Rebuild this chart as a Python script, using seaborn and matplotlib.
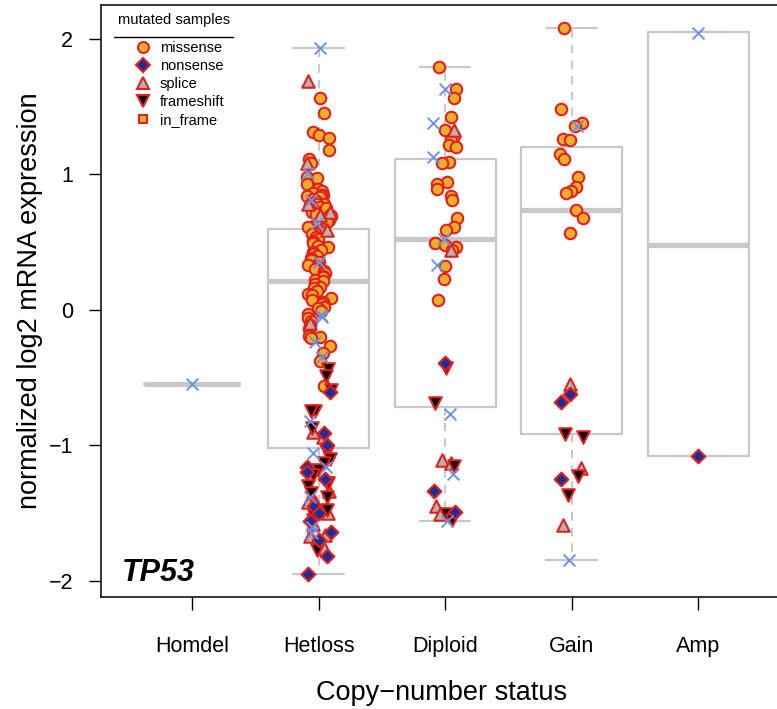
import numpy as np
import pandas as pd
import matplotlib
matplotlib.use("Agg")
import matplotlib.pyplot as plt
from matplotlib.lines import Line2D
import seaborn as sns

categories = ["Homdel", "Hetloss", "Diploid", "Gain", "Amp"]

# box statistics per category: whislo, q1, median, q3, whishi
box_whislo = [-0.55, -1.95, -1.56, -1.85, -1.08]
box_q1     = [-0.55, -1.02, -0.72, -0.92, -1.08]
box_med    = [-0.55,  0.21,  0.52,  0.74,  0.48]
box_q3     = [-0.55,  0.60,  1.11,  1.20,  2.05]
box_whishi = [-0.55,  1.93,  1.79,  2.08,  2.05]

# unmutated samples (blue crosses)
nomut_Homdel = [-0.55]
nomut_Hetloss = [1.93, 1.01, 0.81, 0.64, 0.35, -0.04, -0.05, -0.24, -0.35,
                 -0.82, -1.06, -1.16, -1.38, -1.60, -1.65]
nomut_Diploid = [1.63, 1.38, 1.13, 0.52, 0.33, -0.77, -1.21, -1.56]
nomut_Gain = [1.36, -1.85]
nomut_Amp = [2.04]

# missense
missense_Hetloss = [1.56, 1.45, 1.31, 1.29, 1.27, 1.18, 1.11, 1.08, 0.98, 0.97, 0.93,
                    0.89, 0.88, 0.86, 0.85, 0.85, 0.84, 0.83, 0.82, 0.80, 0.79, 0.78,
                    0.78, 0.77, 0.76, 0.75, 0.74, 0.72, 0.71, 0.70, 0.69, 0.67, 0.66,
                    0.65, 0.63, 0.61, 0.60, 0.58, 0.57, 0.56, 0.54, 0.52, 0.51, 0.49,
                    0.47, 0.46, 0.44, 0.43, 0.41, 0.40, 0.38, 0.37, 0.35, 0.33, 0.32,
                    0.30, 0.29, 0.27, 0.25, 0.24, 0.22, 0.21, 0.19, 0.17, 0.16, 0.14,
                    0.12, 0.11, 0.09, 0.07, 0.06, 0.04, 0.02, 0.01, -0.01, -0.03,
                    -0.06, -0.08, -0.11, -0.14, -0.19, -0.20, -0.21, -0.27, -0.32,
                    -0.38, -0.56]
missense_Diploid = [1.79, 1.63, 1.56, 1.42, 1.33, 1.28, 1.25, 1.22, 1.20, 1.09, 1.08,
                    0.94, 0.93, 0.89, 0.84, 0.81, 0.68, 0.61, 0.59, 0.49, 0.48, 0.46,
                    0.44, 0.32, 0.23, 0.07]
missense_Gain = [2.08, 1.48, 1.38, 1.36, 1.26, 1.25, 1.15, 1.11, 0.98, 0.91, 0.88,
                 0.86, 0.74, 0.68, 0.57]

# nonsense
nonsense_Hetloss = [-0.61, -0.91, -1.00, -1.16, -1.20, -1.25, -1.45, -1.50, -1.56,
                    -1.64, -1.70, -1.82, -1.95]
nonsense_Diploid = [-0.39, -1.34, -1.49]
nonsense_Gain = [-0.62, -0.68, -1.25]
nonsense_Amp = [-1.08]

# splice
splice_Hetloss = [1.69, 1.08, 0.78, 0.72, 0.70, 0.59, -0.10, -0.90, -0.94, -1.34,
                  -1.42, -1.42, -1.50, -1.58, -1.66, -1.67, -1.76]
splice_Diploid = [1.33, 0.44, -1.11, -1.13, -1.45, -1.51]
splice_Gain = [-0.55, -1.17, -1.59]

# frameshift
frameshift_Hetloss = [-0.44, -0.49, -0.59, -0.75, -0.75, -0.87, -1.05, -1.10, -1.13,
                      -1.18, -1.22, -1.28, -1.28, -1.30, -1.35, -1.38, -1.48, -1.52,
                      -1.55, -1.77]
frameshift_Diploid = [-0.43, -0.69, -1.15, -1.51, -1.55]
frameshift_Gain = [-0.92, -0.94, -1.23, -1.37]

mut_types = ["missense", "nonsense", "splice", "frameshift", "in_frame"]

rows = []
def add(kind, cat, vals):
    for v in vals:
        rows.append((cat, v, kind))

add("none", "Homdel", nomut_Homdel)
add("none", "Hetloss", nomut_Hetloss)
add("none", "Diploid", nomut_Diploid)
add("none", "Gain", nomut_Gain)
add("none", "Amp", nomut_Amp)
add("missense", "Hetloss", missense_Hetloss)
add("missense", "Diploid", missense_Diploid)
add("missense", "Gain", missense_Gain)
add("nonsense", "Hetloss", nonsense_Hetloss)
add("nonsense", "Diploid", nonsense_Diploid)
add("nonsense", "Gain", nonsense_Gain)
add("nonsense", "Amp", nonsense_Amp)
add("splice", "Hetloss", splice_Hetloss)
add("splice", "Diploid", splice_Diploid)
add("splice", "Gain", splice_Gain)
add("frameshift", "Hetloss", frameshift_Hetloss)
add("frameshift", "Diploid", frameshift_Diploid)
add("frameshift", "Gain", frameshift_Gain)
df = pd.DataFrame(rows, columns=["status", "value", "type"])

ORANGE = "#E9AE2C"
RED = "#E3201B"
NAVY = "#1C2D9C"
GRAY = "#B3B3B3"
BLUE = "#6A93E8"
BOXC = "#C8C8C8"

styles = {
    "missense":   dict(marker="o", color=ORANGE, size=8.3),
    "nonsense":   dict(marker="D", color=NAVY, size=7.0),
    "splice":     dict(marker="^", color=GRAY, size=9.0),
    "frameshift": dict(marker="v", color="black", size=9.0),
    "in_frame":   dict(marker="s", color=ORANGE, size=6.5),
}

sns.set_theme(style="ticks")
plt.rcParams["font.family"] = ["Liberation Sans", "DejaVu Sans"]

fig = plt.figure(figsize=(7.77, 7.09), dpi=100)
ax = fig.add_axes([101 / 777, (709 - 597) / 709, (783 - 101) / 777, (597 - 5) / 709])

stats = []
for i, c in enumerate(categories):
    stats.append(dict(med=box_med[i], q1=box_q1[i], q3=box_q3[i],
                      whislo=box_whislo[i], whishi=box_whishi[i], fliers=[]))
ax.bxp(stats, positions=range(len(categories)), widths=[0.76, 0.8, 0.8, 0.8, 0.8],
       capwidths=0.4, showfliers=False, patch_artist=False,
       boxprops=dict(color=BOXC, linewidth=1.6),
       whiskerprops=dict(color=BOXC, linewidth=1.5, linestyle=(0, (4, 3.5))),
       capprops=dict(color=BOXC, linewidth=1.6),
       medianprops=dict(color=BOXC, linewidth=3.8, solid_capstyle="butt"),
       manage_ticks=False, zorder=1)

np.random.seed(3)
for t in ["missense", "splice", "frameshift", "nonsense"]:
    sub = df[df["type"] == t]
    st = styles[t]
    sns.stripplot(data=sub, x="status", y="value", order=categories, ax=ax,
                  jitter=0.1, marker=st["marker"], color=st["color"],
                  edgecolor=RED, linewidth=1.5, size=st["size"], zorder=3)

sub = df[df["type"] == "none"]
sns.stripplot(data=sub, x="status", y="value", order=categories, ax=ax,
              jitter=0.1, marker="x", color=BLUE, linewidth=1.4, size=8.5, zorder=4)

ax.set_xlim(-0.72, 4.67)
ax.set_ylim(-2.12, 2.25)
ax.set_yticks([-2, -1, 0, 1, 2])
ax.set_xticks(range(len(categories)))
ax.set_xticklabels(categories)
ax.tick_params(axis="both", direction="out", length=9, width=1.0, color="black",
               labelsize=15.5, labelcolor="black")
ax.tick_params(axis="x", pad=19)
ax.tick_params(axis="y", pad=11)
for s in ax.spines.values():
    s.set_color("black")
    s.set_linewidth(1.1)
ax.set_facecolor("white")
fig.patch.set_facecolor("white")

ax.set_xlabel("Copy\u2212number status", fontsize=19.5, labelpad=17, color="black")
ax.set_ylabel("normalized log2 mRNA expression", fontsize=19.5, labelpad=4, color="black")

ax.text((122 - 101) / 682, (597 - 581) / 592, "TP53", transform=ax.transAxes,
        fontsize=22, fontweight="bold", fontstyle="italic", ha="left", va="baseline",
        color="black")

# legend
handles = []
for t in mut_types:
    st = styles[t]
    handles.append(Line2D([], [], linestyle="none", marker=st["marker"],
                          markerfacecolor=st["color"], markeredgecolor=RED,
                          markeredgewidth=1.5, markersize=st["size"] * 0.95, label=t))
leg = ax.legend(handles=handles, loc="upper left",
                bbox_to_anchor=((134 - 101) / 682, (597 - 41) / 592), frameon=False,
                fontsize=10.5, labelspacing=0.27, handletextpad=0.56,
                handlelength=1.2, borderaxespad=0.0, borderpad=0.0)
for txt in leg.get_texts():
    txt.set_color("black")
ax.text((174 - 101) / 682, (597 - 20) / 592, "mutated samples", transform=ax.transAxes,
        fontsize=10.5, ha="center", va="center", color="black")
ax.add_line(Line2D([(114 - 101) / 682, (233 - 101) / 682],
                   [(597 - 37) / 592, (597 - 37) / 592],
                   transform=ax.transAxes, color="black", linewidth=1.0))

fig.savefig("out.png", dpi=100, facecolor="white")
